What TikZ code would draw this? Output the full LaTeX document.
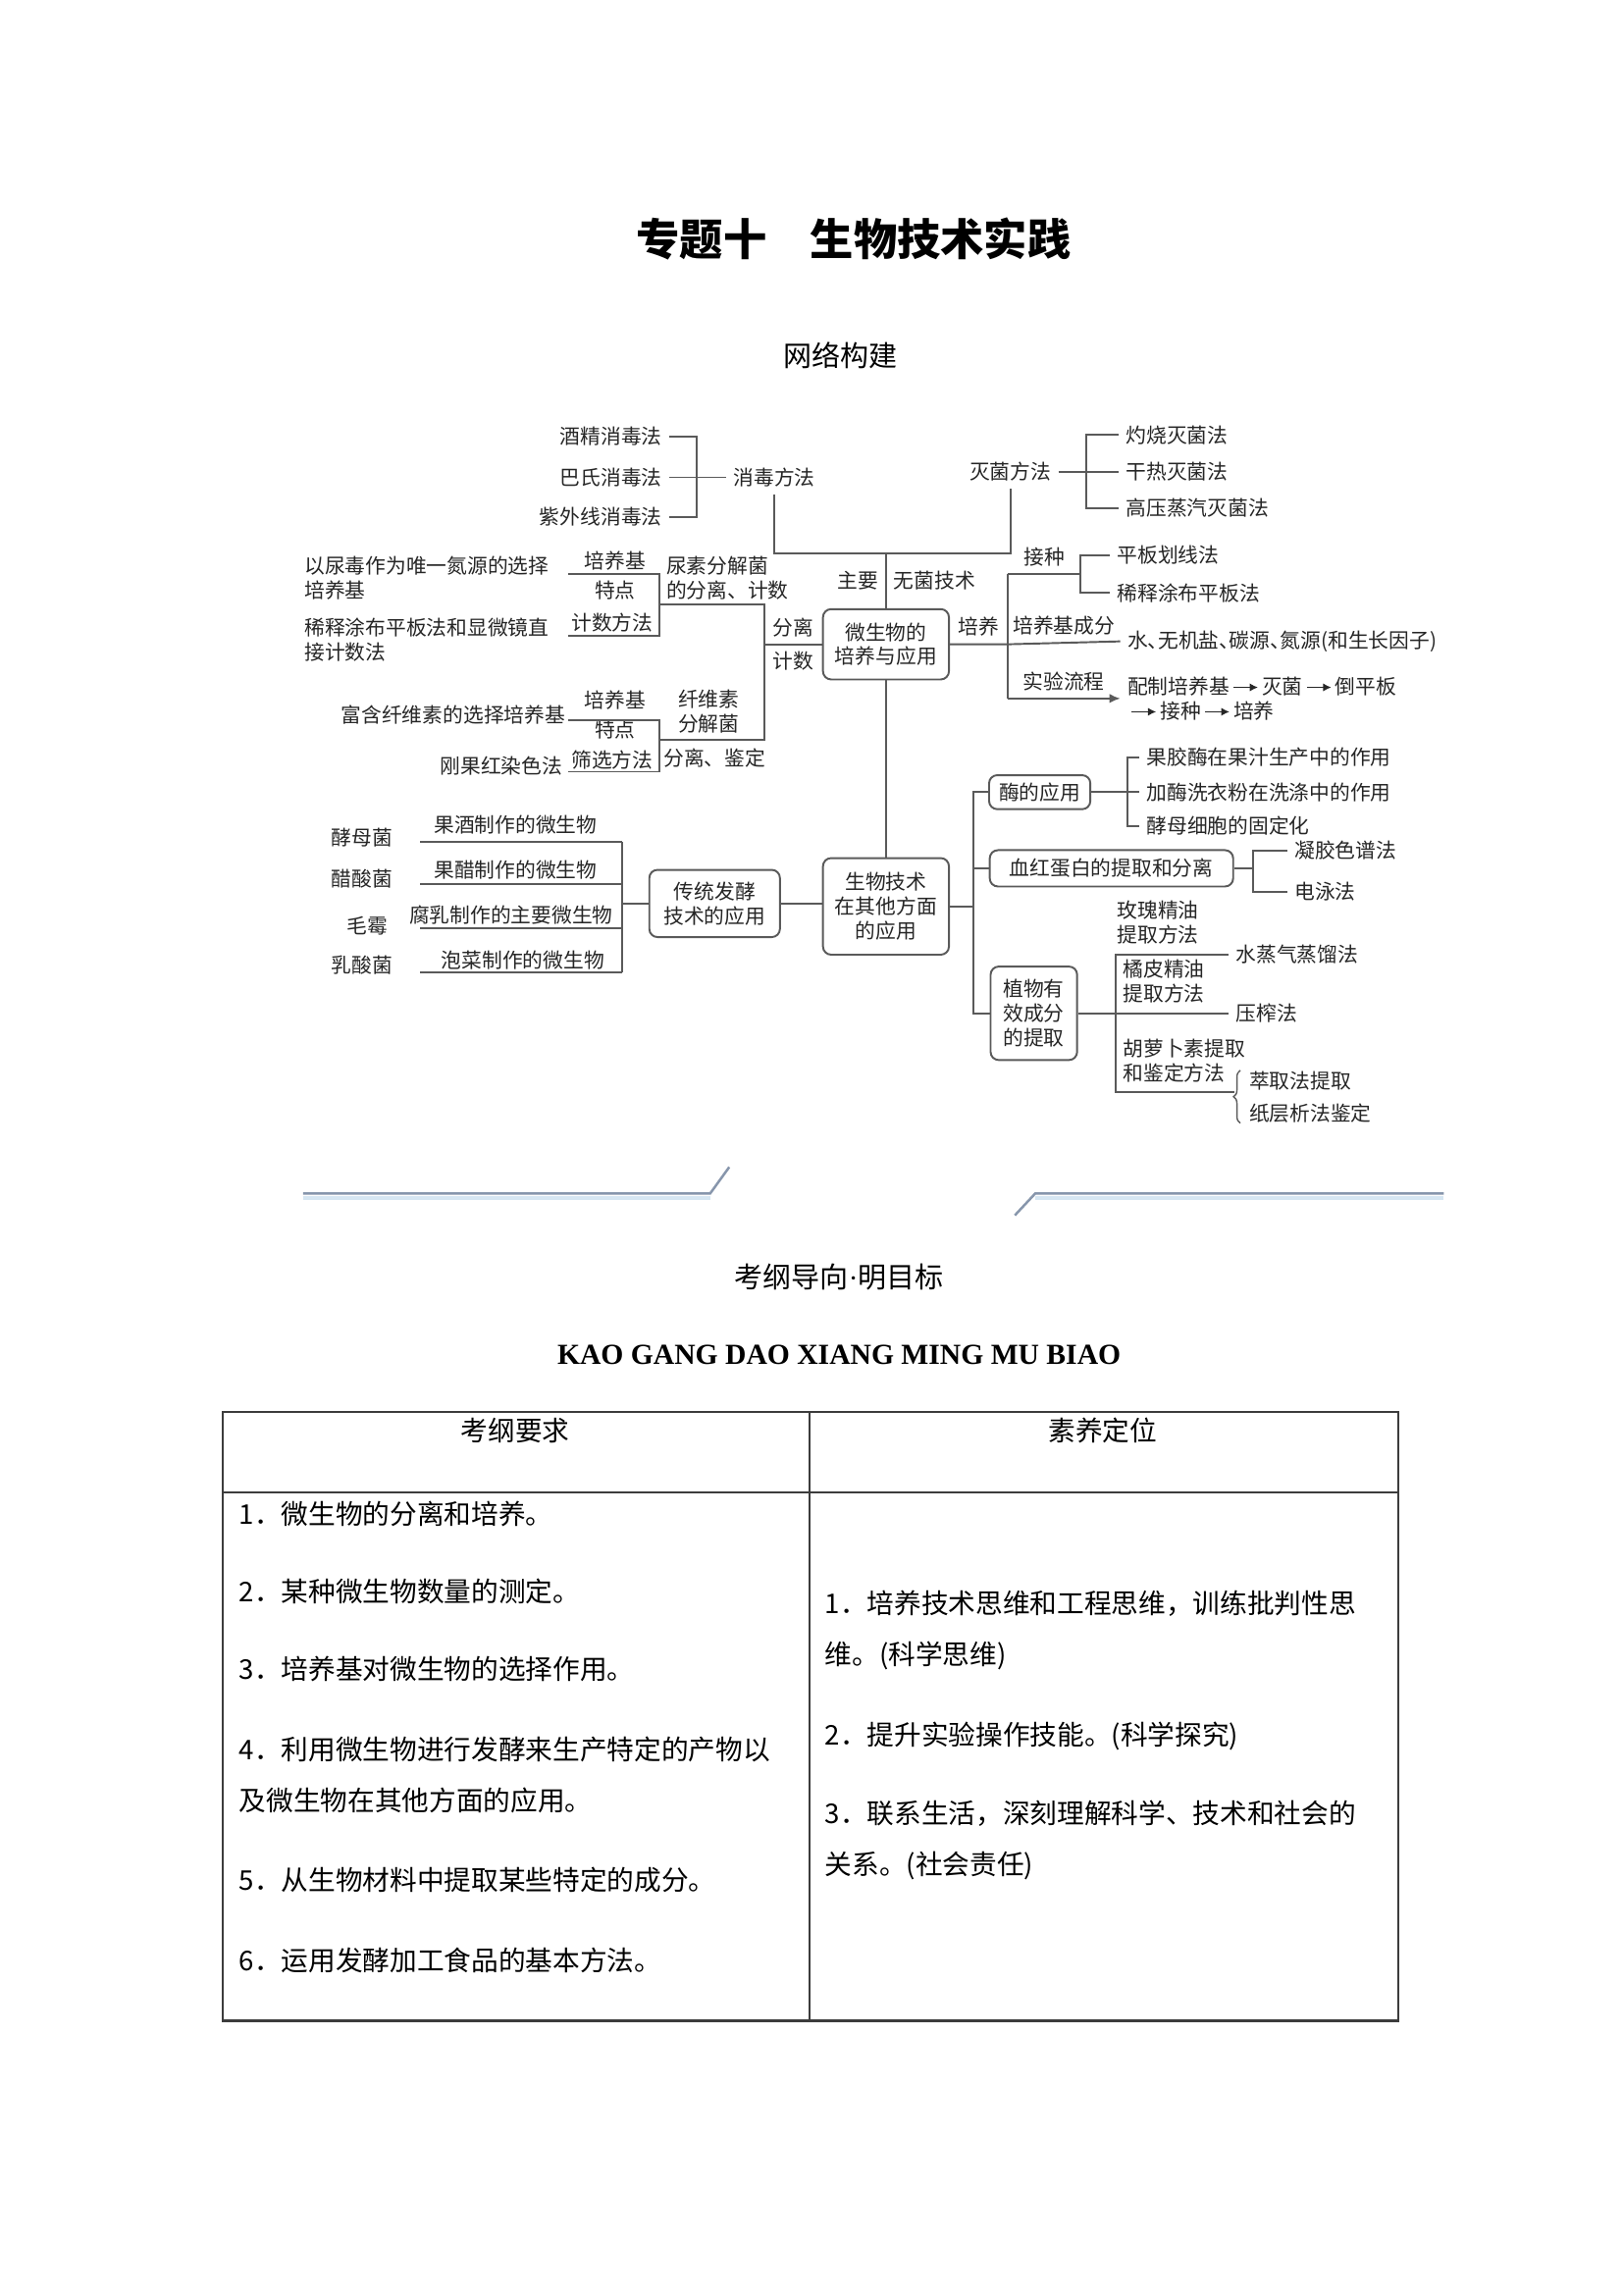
\documentclass[tikz,border=0pt]{standalone}
\usepackage{fontspec}
\setmainfont{Noto Sans CJK SC}
\newfontfamily\pinyinfont{Liberation Serif}
\usetikzlibrary{arrows.meta,decorations.pathreplacing}
\definecolor{linec}{RGB}{90,90,90}
\definecolor{sepc}{RGB}{135,150,172}
\definecolor{sepshade}{RGB}{214,230,242}
\definecolor{tabc}{RGB}{60,60,60}
\newcommand{\stepto}{\,\tikz[baseline=-0.6ex]\draw[-{Latex[length=3pt,width=3pt]},line width=0.5pt] (0pt,0pt) -- (9pt,0pt);\,}

\begin{document}
\begin{tikzpicture}[
  x=0.018953cm, y=-0.018953cm,
  lbl/.style={font=\fontsize{7.5}{9}\selectfont, align=left, inner sep=2.5pt, text=black!85},
  rbox/.style={draw=linec, line width=0.7pt, rounded corners=3pt, align=center, inner sep=2pt, font=\fontsize{7.5}{9}\selectfont, text=black!85},
  wire/.style={draw=linec, line width=0.7pt},
  tabtext/.style={font=\fontsize{10}{18.8}\selectfont, align=left, inner sep=0pt, anchor=west},
  head/.style={font=\fontsize{10}{12}\selectfont, inner sep=0pt}
]
\fill[white] (0,0) rectangle (1108,1568);
\useasboundingbox (0,0) rectangle (1108,1568);

\node[font=\fontsize{16}{18}\selectfont\bfseries] (title) at (583,163) {专题十　生物技术实践};
\node[head, font=\fontsize{10.5}{12}\selectfont] (net) at (574,243) {网络构建};

% sterilisation branch
\node[lbl, anchor=east] (alc) at (457,298) {酒精消毒法};
\node[lbl, anchor=east] (pas) at (457,326) {巴氏消毒法};
\node[lbl, anchor=east] (uv) at (457,353) {紫外线消毒法};
\node[lbl, anchor=west] (disinf) at (496,326) {消毒方法};
\node[lbl] (sterm) at (690,322) {灭菌方法};
\node[lbl, anchor=west] (burn) at (764,297) {灼烧灭菌法};
\node[lbl, anchor=west] (dry) at (764,322) {干热灭菌法};
\node[lbl, anchor=west] (steam) at (764,347) {高压蒸汽灭菌法};
\coordinate (dbr) at (476,326);
\coordinate (sbr) at (742,322);
\coordinate (top) at (605,378);

\node[rbox, minimum width=1.63cm, minimum height=0.91cm] (micro) at (605,440) {微生物的\\培养与应用};

\draw[wire] (alc.east) -| (dbr) |- (uv.east);
\draw[wire] (pas.east) -- (disinf.west);
\draw[wire] (sterm.east) -- (dry.west);
\draw[wire] (burn.west) -| (sbr) |- (steam.west);
\draw[wire] (disinf.south) |- (top) -| (sterm.south);
\draw[wire] (top) -- node[lbl, left] (lmain) {主要} node[lbl, right] (lsterile) {无菌技术} (micro.north);

% separation and counting
\node[lbl, anchor=west] (ureasel) at (203,395) {以尿毒作为唯一氮源的选择\\培养基};
\node[lbl, anchor=west] (dilcnt) at (203,437) {稀释涂布平板法和显微镜直\\接计数法};
\node[lbl] (med1) at (420,383) {培养基};
\node[lbl] (feat1) at (420,403) {特点};
\node[lbl] (cnt1) at (418,425) {计数方法};
\node[lbl, anchor=west] (ureacnt) at (450,395) {尿素分解菌\\的分离、计数};
\node[lbl, anchor=east] (cellsel) at (391,488) {富含纤维素的选择培养基};
\node[lbl, anchor=east] (congo) at (389,523) {刚果红染色法};
\node[lbl] (med2) at (420,478) {培养基};
\node[lbl] (feat2) at (420,498) {特点};
\node[lbl] (scr2) at (418,519) {筛选方法};
\node[lbl] (cellbac) at (484,486) {纤维素\\分解菌};
\node[lbl] (sepid) at (488,518) {分离、鉴定};
\coordinate (ub1) at (388,392); \coordinate (ub2) at (450,392);
\coordinate (ub3) at (450,434); \coordinate (ub4) at (388,434);
\coordinate (lb1) at (388,492); \coordinate (lb2) at (450,492);
\coordinate (lb3) at (450,527); \coordinate (lb4) at (388,527);
\coordinate (um) at (450,413); \coordinate (colt) at (522,413);
\coordinate (lm) at (450,505); \coordinate (colb) at (522,505);
\coordinate (col) at (522,440);
\draw[wire] (ub1) -- (ub2) -- (ub3) -- (ub4);
\draw[wire] (lb1) -- (lb2) -- (lb3) -- (lb4);
\draw[wire] (um) -- (colt) -- (colb) -- (lm);
\draw[wire] (col) -- node[lbl, above] (lsep) {分离} node[lbl, below] (lcnt) {计数} (micro.west);

% culture branch
\node[lbl, anchor=west] (streak) at (758,379) {平板划线法};
\node[lbl, anchor=west] (spread) at (758,405) {稀释涂布平板法};
\node[lbl, anchor=west] (water) at (765,438) {\addfontfeature{RawFeature=+halt}水、无机盐、碳源、氮源(和生长因子)};
\node[lbl, anchor=west] (flow) at (765,477) {配制培养基\stepto 灭菌\stepto 倒平板\\\stepto 接种\stepto 培养};
\coordinate (inoc) at (688,392);
\coordinate (ibr) at (738,392);
\coordinate (cvert) at (688,440);
\coordinate (expc) at (688,477);
\draw[wire] (micro.east) -- node[lbl, above] (lcul) {培养} (cvert) -- node[lbl, above] (lmedc) {培养基成分} (water.west);
\draw[wire] (inoc) -- node[lbl, above] (linoc) {接种} (ibr);
\draw[wire] (streak.west) -| (ibr) |- (spread.west);
\draw[wire] (inoc) -- (expc);
\draw[wire, -{Latex[length=4pt,width=3.5pt]}] (expc) -- node[lbl, above] (lexp) {实验流程} (flow.west);

% other applications
\node[rbox, minimum width=1.63cm, minimum height=1.25cm] (other) at (605,619) {生物技术\\在其他方面\\的应用};
\node[rbox, minimum width=1.69cm, minimum height=0.87cm] (ferm) at (488,617) {传统发酵\\技术的应用};
\node[rbox, minimum width=1.31cm, minimum height=0.44cm] (enz) at (710,541) {酶的应用};
\node[rbox, minimum width=3.15cm, minimum height=0.47cm] (hb) at (759,593) {血红蛋白的提取和分离};
\node[rbox, minimum width=1.12cm, minimum height=1.21cm] (plant) at (706,692) {植物有\\效成分\\的提取};
\draw[wire] (micro.south) -- (other.north);
\draw[wire] (ferm.east) -- (ferm.east -| other.west);

% fermentation
\node[lbl, anchor=east] (org1) at (273,572) {酵母菌};
\node[lbl, anchor=east] (org2) at (273,600) {醋酸菌};
\node[lbl, anchor=east] (org3) at (270,632) {毛霉};
\node[lbl, anchor=east] (org4) at (273,659) {乳酸菌};
\node[lbl] (use1) at (352,563) {果酒制作的微生物};
\node[lbl] (use2) at (352,594) {果醋制作的微生物};
\node[lbl] (use3) at (349,625) {腐乳制作的主要微生物};
\node[lbl] (use4) at (357,656) {泡菜制作的微生物};
\coordinate (fl1) at (287,575);
\coordinate (fl2) at (287,604);
\coordinate (fl3) at (287,634);
\coordinate (fl4) at (287,664);
\coordinate (fcol) at (425,617);
\draw[wire] (fl1) -- (fl1 -| fcol);
\draw[wire] (fl2) -- (fl2 -| fcol);
\draw[wire] (fl3) -- (fl3 -| fcol);
\draw[wire] (fl4) -- (fl4 -| fcol);
\draw[wire] (fl1 -| fcol) -- (fl4 -| fcol);
\draw[wire] (fcol) -- (ferm.west);

% enzymes, haemoglobin, plant extracts
\coordinate (rvert) at (665,619);
\draw[wire] (other.east) -- (rvert);
\draw[wire] (enz.west) -| (rvert) |- (plant.west);
\draw[wire] (hb.west) -- (hb.west -| rvert);

\node[lbl, anchor=west] (pect) at (778,517) {果胶酶在果汁生产中的作用};
\node[lbl, anchor=west] (deterg) at (778,541) {加酶洗衣粉在洗涤中的作用};
\node[lbl, anchor=west] (immob) at (778,564) {酵母细胞的固定化};
\coordinate (ebr) at (770,541);
\draw[wire] (enz.east) -- (deterg.west);
\draw[wire] (pect.west) -| (ebr) |- (immob.west);

\node[lbl, anchor=west] (gel) at (879,581) {凝胶色谱法};
\node[lbl, anchor=west] (elec) at (879,609) {电泳法};
\coordinate (hbr) at (856,593);
\draw[wire] (hb.east) -- (hbr);
\draw[wire] (gel.west) -| (hbr) |- (elec.west);

\node[lbl, anchor=west] (steamd) at (839,652) {水蒸气蒸馏法};
\node[lbl, anchor=west] (press) at (839,692) {压榨法};
\node[lbl, anchor=south west] (rose) at (758,650) {玫瑰精油\\提取方法};
\node[lbl, anchor=south west] (orange) at (762,690) {橘皮精油\\提取方法};
\node[lbl, anchor=south west] (carot) at (762,744) {胡萝卜素提取\\和鉴定方法};
\node[lbl, anchor=west] (extr) at (848,738) {萃取法提取};
\node[lbl, anchor=west] (paper) at (848,760) {纸层析法鉴定};
\coordinate (pvert) at (762,692);
\coordinate (pbot) at (843,746);
\coordinate (brb) at (847,767);
\coordinate (brt) at (847,731);
\draw[wire] (plant.east) -- (press.west);
\draw[wire] (steamd.west) -| (pvert) |- (pbot);
\draw[wire, line width=0.5pt, decorate, decoration={brace, amplitude=2.5pt}] (brb) -- (brt);

% separator
\draw[sepshade, line width=1.6pt] (207,818) -- (485,818);
\draw[sepshade, line width=1.6pt] (707,818) -- (986,818);
\draw[sepc, line width=0.9pt] (207,815) -- (485,815) -- (498,797);
\draw[sepc, line width=0.9pt] (693,830) -- (707,815) -- (986,815);

\node[head, font=\fontsize{10.5}{12}\selectfont] (guide) at (573,872) {考纲导向{\pinyinfont\textperiodcentered}明目标};
\node[font=\pinyinfont\bfseries\fontsize{10.7}{13}\selectfont, inner sep=0pt] (pinyin) at (573,925) {KAO GANG DAO XIANG MING MU BIAO};

% table
\coordinate (tnw) at (152,964);
\coordinate (tse) at (955,1380);
\coordinate (tmid) at (553,964);
\coordinate (thead) at (152,1019);
\draw[tabc, line width=0.8pt] (tnw) rectangle (tse);
\draw[tabc, line width=0.8pt] (tmid) -- (tmid |- tse);
\draw[tabc, line width=0.8pt] (thead) -- (thead -| tse);

\node[head] (hreq) at (352,977) {考纲要求};
\node[head] (hlit) at (753,977) {素养定位};
\node[tabtext] (req1) at (163,1034) {1．微生物的分离和培养。};
\node[tabtext] (req2) at (163,1087) {2．某种微生物数量的测定。};
\node[tabtext] (req3) at (163,1140) {3．培养基对微生物的选择作用。};
\node[tabtext] (req4) at (163,1212) {4．利用微生物进行发酵来生产特定的产物以\\及微生物在其他方面的应用。};
\node[tabtext] (req5) at (163,1284) {5．从生物材料中提取某些特定的成分。};
\node[tabtext] (req6) at (163,1339) {6．运用发酵加工食品的基本方法。};
\node[tabtext] (lit1) at (563,1113) {1．培养技术思维和工程思维，训练批判性思\\维。(科学思维)};
\node[tabtext] (lit2) at (563,1186) {2．提升实验操作技能。(科学探究)};
\node[tabtext] (lit3) at (563,1257) {3．联系生活，深刻理解科学、技术和社会的\\关系。(社会责任)};
\end{tikzpicture}
\end{document}
